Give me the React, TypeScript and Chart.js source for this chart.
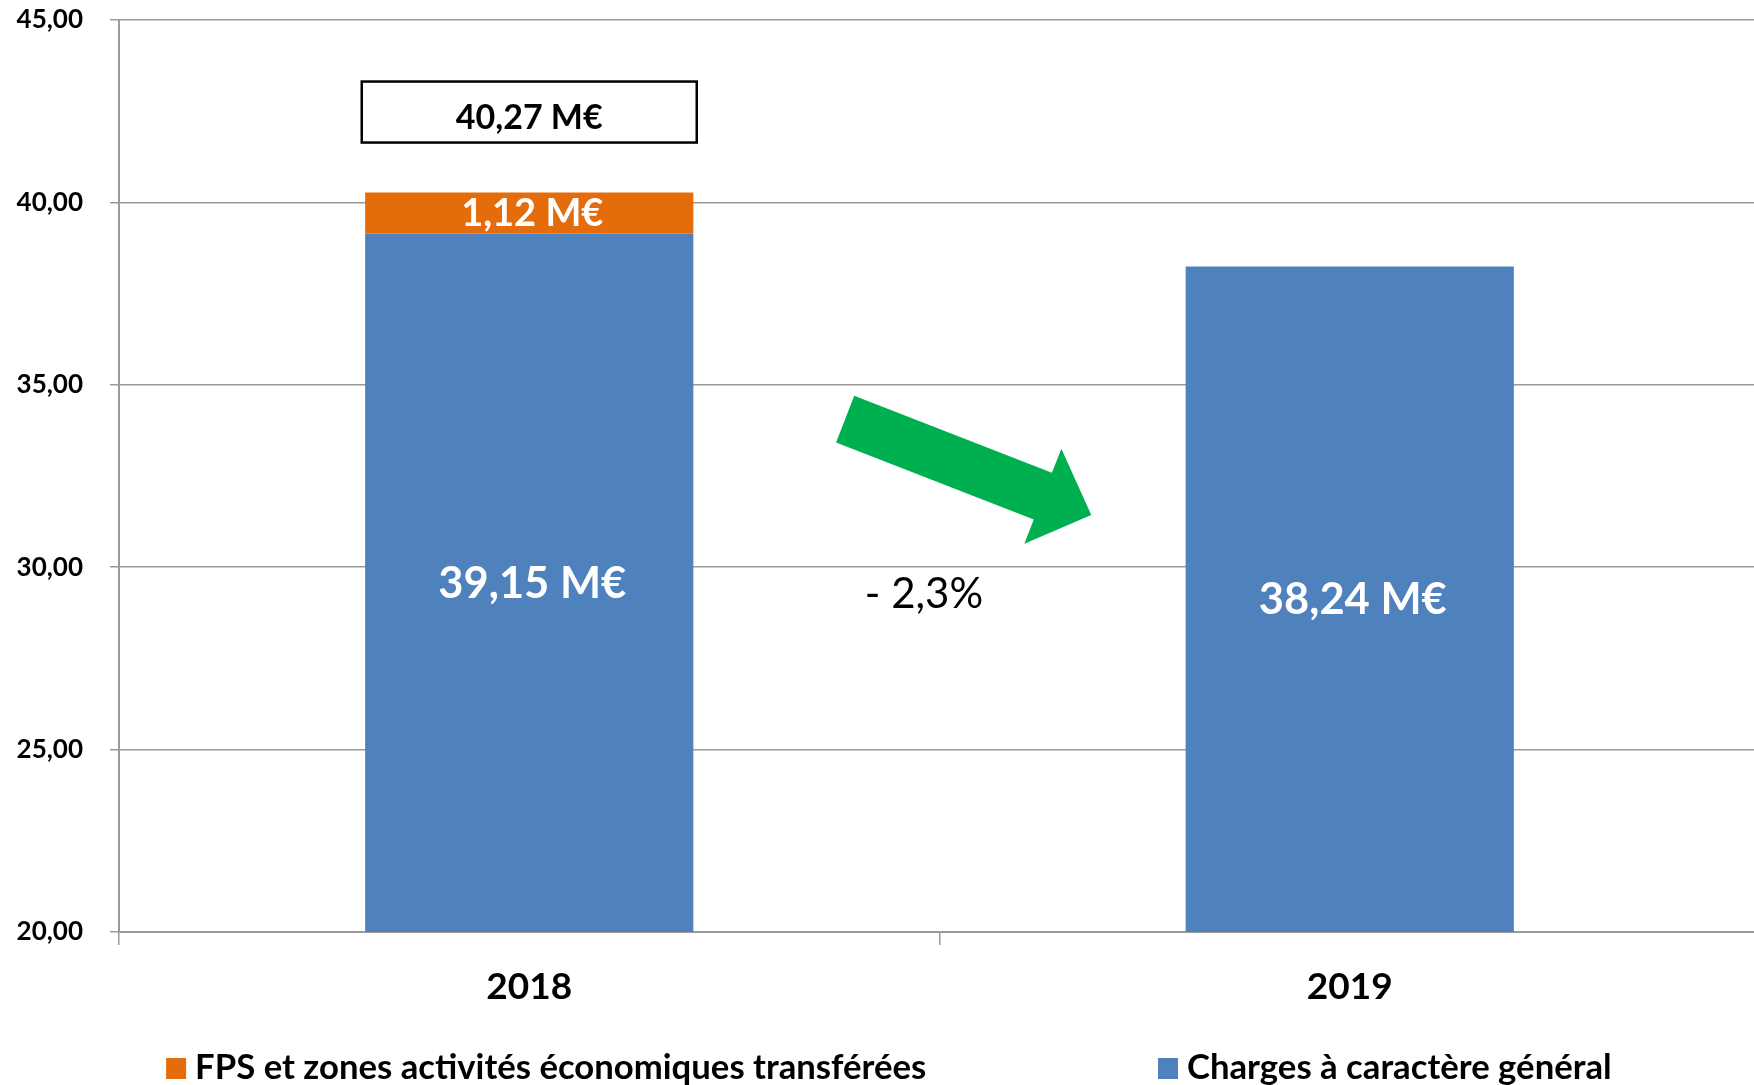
import React, { useEffect, useRef } from 'react';
import { Chart, registerables } from 'chart.js';

Chart.register(...registerables);

// ---- data ----
const years = ['2018', '2019'];
const chargesGenerales = [39.15, 38.24];
const fpsTransferees: (number | null)[] = [1.12, null];
const legendLabels = ['FPS et zones activités économiques transférées', 'Charges à caractère général'];
const unit = ' M€';
const yMin = 20;
const yMax = 45;
const yStep = 5;

// ---- styles ----
const BLUE = '#4F81BD';
const ORANGE = '#E46C0A';
const GREEN = '#00B050';
const GRID = '#9A9A9A';
const FONT = 'Lato, "Open Sans", sans-serif';
const VIEW_W = 1754;
const CANVAS_W = 1760; // plot area runs slightly past the visible right edge
const CANVAS_H = 1085;

const fmt = (v: number) => v.toFixed(2).replace('.', ',');

const labelsPlugin = {
  id: 'customLabels',
  afterDatasetsDraw(chart: any) {
    const { ctx, chartArea, scales } = chart;
    const xs = scales.x;
    const ys = scales.y;
    ctx.save();
    ctx.textAlign = 'center';
    ctx.textBaseline = 'middle';

    // segment labels
    chart.data.datasets.forEach((ds: any, di: number) => {
      const meta = chart.getDatasetMeta(di);
      meta.data.forEach((bar: any, i: number) => {
        const v = ds.data[i];
        if (v == null) return;
        const top = Math.max(Math.min(bar.y, bar.base), chartArea.top);
        const bottom = Math.min(Math.max(bar.y, bar.base), chartArea.bottom);
        ctx.font = `bold ${ds.labelSize}px ${FONT}`;
        ctx.fillStyle = '#FFFFFF';
        ctx.fillText(fmt(v) + unit, bar.x + 3, (top + bottom) / 2 + 1);
      });
    });

    // total boxes where both segments exist
    years.forEach((_, i) => {
      const f = fpsTransferees[i];
      if (f == null) return;
      const total = chargesGenerales[i] + f;
      const cx = xs.getPixelForValue(i);
      const w = 335;
      const h = 61;
      const bottom = ys.getPixelForValue(total) - 50;
      const top = bottom - h;
      ctx.fillStyle = '#FFFFFF';
      ctx.fillRect(cx - w / 2, top, w, h);
      ctx.lineWidth = 2.5;
      ctx.strokeStyle = '#000000';
      ctx.strokeRect(cx - w / 2, top, w, h);
      ctx.fillStyle = '#000000';
      ctx.font = `bold 34px ${FONT}`;
      ctx.fillText(fmt(total) + unit, cx, top + h / 2 + 6);
    });

    // trend arrow between the two years
    const tx = xs.getPixelForValue(0.385);
    const ty = ys.getPixelForValue(34.06);
    const hx = xs.getPixelForValue(0.685);
    const hy = ys.getPixelForValue(31.43);
    const dx = hx - tx;
    const dy = hy - ty;
    const len = Math.sqrt(dx * dx + dy * dy);
    const ux = dx / len;
    const uy = dy / len;
    const nx = -uy;
    const ny = ux;
    const shaftW = 50;
    const headW = 102;
    const headL = 52;
    const bx = hx - ux * headL;
    const by = hy - uy * headL;
    ctx.beginPath();
    ctx.moveTo(tx + nx * shaftW / 2, ty + ny * shaftW / 2);
    ctx.lineTo(bx + nx * shaftW / 2, by + ny * shaftW / 2);
    ctx.lineTo(bx + nx * headW / 2, by + ny * headW / 2);
    ctx.lineTo(hx, hy);
    ctx.lineTo(bx - nx * headW / 2, by - ny * headW / 2);
    ctx.lineTo(bx - nx * shaftW / 2, by - ny * shaftW / 2);
    ctx.lineTo(tx - nx * shaftW / 2, ty - ny * shaftW / 2);
    ctx.closePath();
    ctx.fillStyle = GREEN;
    ctx.fill();

    // percentage change
    const pct = ((chargesGenerales[1] - chargesGenerales[0]) / chargesGenerales[0]) * 100;
    const pctText = '- ' + Math.abs(pct).toFixed(1).replace('.', ',') + '%';
    ctx.fillStyle = '#000000';
    ctx.font = `42px ${FONT}`;
    ctx.fillText(pctText, xs.getPixelForValue(0.481), ys.getPixelForValue(29.24));

    ctx.restore();
  },
  afterDraw(chart: any) {
    const { ctx, height } = chart;
    ctx.save();
    ctx.textAlign = 'left';
    ctx.textBaseline = 'middle';
    ctx.font = `bold 34.7px ${FONT}`;
    const cy = height - 17;
    const items = [
      { label: legendLabels[0], color: ORANGE, x: VIEW_W * 0.0947 },
      { label: legendLabels[1], color: BLUE, x: VIEW_W * 0.6602 },
    ];
    items.forEach((it) => {
      ctx.fillStyle = it.color;
      ctx.fillRect(it.x, cy - 10, 20, 21);
      ctx.fillStyle = '#000000';
      ctx.fillText(it.label, it.x + 29, cy);
    });
    ctx.restore();
  },
};

export default function App() {
  const ref = useRef<HTMLCanvasElement | null>(null);

  useEffect(() => {
    if (!ref.current) return;
    const chart = new Chart(ref.current, {
      type: 'bar',
      data: {
        labels: years,
        datasets: [
          {
            label: legendLabels[1],
            data: chargesGenerales,
            backgroundColor: BLUE,
            borderWidth: 0,
            labelSize: 43.5,
          } as any,
          {
            label: legendLabels[0],
            data: fpsTransferees,
            backgroundColor: ORANGE,
            borderWidth: 0,
            labelSize: 38,
          } as any,
        ],
      },
      options: {
        responsive: false,
        animation: false,
        devicePixelRatio: 1,
        datasets: { bar: { categoryPercentage: 1, barPercentage: 0.4, clip: 0 } as any },
        layout: { padding: { top: 20, bottom: 73, left: 0, right: 0 } },
        plugins: {
          legend: { display: false },
          tooltip: { enabled: false },
        },
        scales: {
          x: {
            stacked: true,
            grid: {
              offset: true,
              drawOnChartArea: false,
              drawTicks: true,
              tickLength: 13,
              color: GRID,
              lineWidth: 1.5,
            },
            border: { display: true, color: GRID, width: 2 },
            ticks: {
              color: '#000000',
              font: { family: FONT, weight: 'bold', size: 37 },
              padding: 20,
              maxRotation: 0,
            },
            afterFit: (s: any) => {
              s.height = 80;
              s.paddingLeft = 0;
              s.paddingRight = 0;
            },
          },
          y: {
            stacked: true,
            min: yMin,
            max: yMax,
            grid: { color: GRID, lineWidth: 1.5, tickLength: 9, drawTicks: true },
            border: { display: true, color: GRID, width: 2 },
            ticks: {
              stepSize: yStep,
              color: '#000000',
              font: { family: FONT, weight: 'bold', size: 26 },
              padding: 27,
              callback: (v: any) => fmt(Number(v)),
            },
            afterFit: (s: any) => {
              s.width = 119;
              s.paddingTop = 0;
              s.paddingBottom = 0;
            },
          },
        },
      } as any,
      plugins: [labelsPlugin],
    });
    return () => chart.destroy();
  }, []);

  return (
    <div
      style={{
        position: 'absolute',
        left: 0,
        top: 0,
        width: VIEW_W,
        height: CANVAS_H,
        overflow: 'hidden',
        background: '#fff',
      }}
    >
      <canvas ref={ref} width={CANVAS_W} height={CANVAS_H} style={{ display: 'block' }} />
    </div>
  );
}
